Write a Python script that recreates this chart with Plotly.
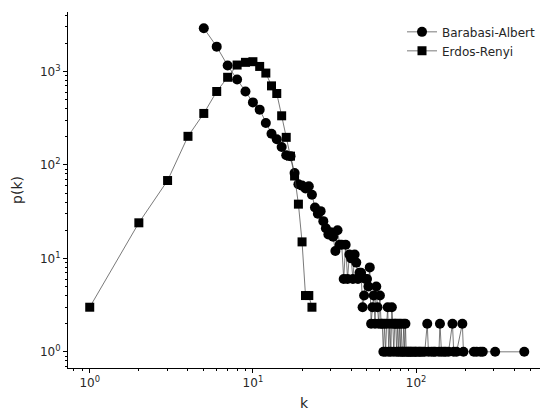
import math
import plotly.graph_objects as go

# Degree histograms (degree k -> number of nodes), n = 10000
ba_k = [5, 6, 7, 8, 9, 10, 11, 12, 13, 14, 15, 16, 17, 18, 19, 20, 21, 22, 23, 24,
        25, 26, 27, 28, 29, 30, 31, 32, 33, 34, 35, 36, 37, 38, 39, 40, 41, 42, 43, 44,
        45, 46, 47, 48, 49, 50, 51, 52, 53, 54, 55, 56, 57, 58, 59, 60, 61, 62, 63, 64,
        65, 66, 67, 68, 69, 70, 71, 72, 73, 74, 75, 76, 77, 78, 79, 80, 81, 82, 83, 84,
        85, 86, 87, 89, 90, 92, 93, 95, 97, 99, 100, 103, 105, 107, 110, 113, 117, 119,
        124, 128, 131, 138, 140, 143, 148, 152, 158, 167, 170, 177, 192, 195, 226, 235,
        248, 256, 305, 460]
ba_count = [2900, 1840, 1155, 820, 610, 466, 390, 280, 215, 188, 155, 127, 124, 82, 62, 60, 56, 59, 48, 35,
            30, 32, 25, 21, 18, 19, 17, 12, 20, 14, 14, 6, 14, 6, 11, 10, 6, 11, 9, 6,
            7, 7, 3, 4, 6, 6, 5, 8, 2, 3, 4, 2, 5, 3, 2, 4, 2, 2, 1, 2,
            1, 2, 3, 1, 2, 1, 3, 2, 1, 2, 2, 1, 2, 1, 2, 1, 2, 1, 1, 2,
            1, 2, 1, 1, 1, 1, 1, 1, 1, 1, 1, 1, 1, 1, 1, 1, 2, 1,
            1, 1, 1, 1, 2, 1, 1, 1, 1, 2, 1, 1, 2, 1, 1, 1,
            1, 1, 1, 1]

er_k = [1, 2, 3, 4, 5, 6, 7, 8, 9, 10, 11, 12, 13, 14, 15, 16, 17, 18, 19, 20, 21, 22, 23]
er_count = [3, 24, 68, 202, 355, 610, 865, 1170, 1250, 1270, 1130, 960, 700, 580, 335, 197,
            124, 76, 38, 15, 4, 4, 3]

major_ticks = [1, 10, 100, 1000]
major_labels = ["10<sup>0</sup>", "10<sup>1</sup>", "10<sup>2</sup>", "10<sup>3</sup>"]
minor_ticks = [m * 10 ** e for e in range(-1, 4) for m in range(2, 10)]

FIG_W, FIG_H = 540, 413
MARGIN = dict(l=68, r=0, t=12, b=45)
TEXT = "#262626"


def log_limits(vals, margin=0.05):
    lo, hi = math.log10(min(vals)), math.log10(max(vals))
    span = hi - lo
    return lo - margin * span, hi + margin * span


# x axis keeps the padded lower limit and the padded decade scale; the
# right-hand part of the padded range falls past the figure edge.
x_lo, x_hi = log_limits(ba_k + er_k)
plot_w = FIG_W - MARGIN["l"] - MARGIN["r"]
full_w = plot_w + 6
x_range = [x_lo, x_lo + (x_hi - x_lo) * plot_w / full_w]
y_range = list(log_limits(ba_count + er_count))

line_style = dict(color="#404040", width=0.7)

fig = go.Figure()
fig.add_trace(go.Scatter(
    x=ba_k, y=ba_count, mode="lines+markers", name="Barabasi-Albert",
    line=line_style,
    marker=dict(symbol="circle", size=10, color="black"),
))
fig.add_trace(go.Scatter(
    x=er_k, y=er_count, mode="lines+markers", name="Erdos-Renyi",
    line=line_style,
    marker=dict(symbol="square", size=9, color="black"),
))

axis_common = dict(
    type="log", showgrid=False, zeroline=False,
    showline=True, linecolor="black", linewidth=1,
    ticks="outside", ticklen=4, tickwidth=1, tickcolor="black",
    tickmode="array", tickvals=major_ticks, ticktext=major_labels,
    tickfont=dict(family="DejaVu Sans", size=12, color=TEXT),
    minor=dict(ticks="outside", ticklen=2, tickwidth=0.8, tickcolor="black",
               tickmode="array", tickvals=minor_ticks, showgrid=False),
)

fig.update_layout(
    template="none",
    width=FIG_W, height=FIG_H,
    margin=MARGIN,
    paper_bgcolor="white", plot_bgcolor="white",
    font=dict(family="DejaVu Sans", color=TEXT),
    xaxis=dict(axis_common, range=x_range,
               title=dict(text="k", font=dict(size=14, color=TEXT), standoff=8)),
    yaxis=dict(axis_common, range=y_range,
               title=dict(text="p(k)", font=dict(size=14, color=TEXT), standoff=14)),
    legend=dict(x=1.0, y=0.985, xanchor="right", yanchor="top",
                bgcolor="rgba(255,255,255,0)", font=dict(size=12, color=TEXT),
                itemwidth=30, tracegroupgap=0),
    showlegend=True,
)

fig.write_html("out.html")
